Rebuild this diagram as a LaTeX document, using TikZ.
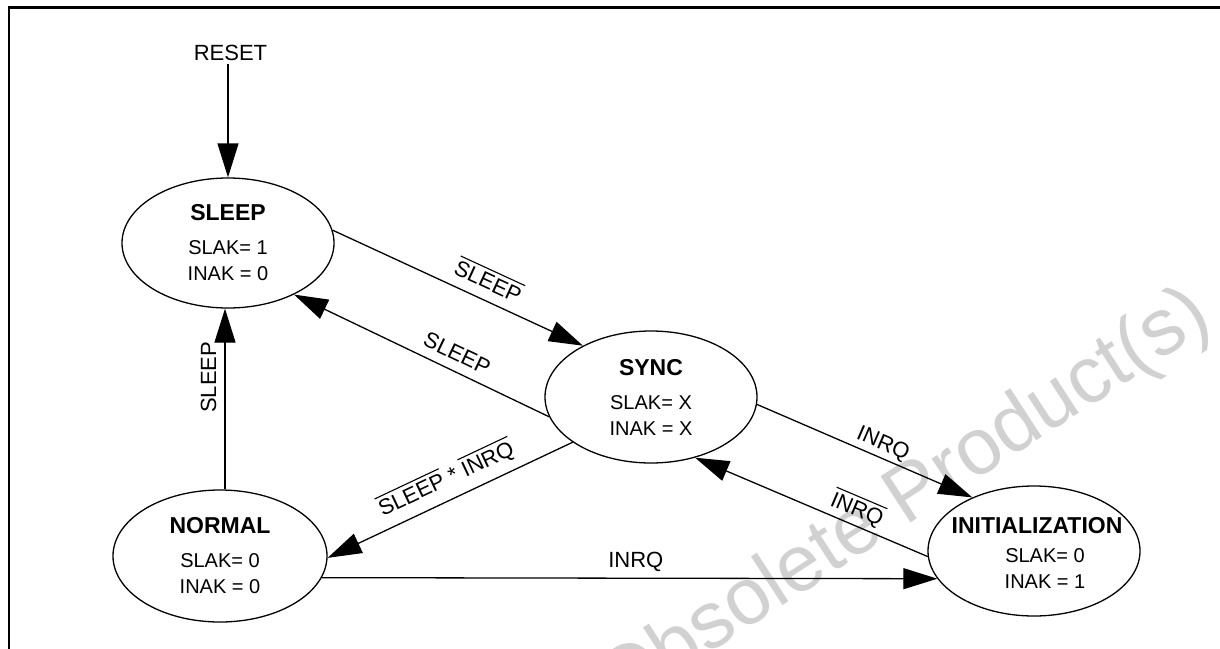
\documentclass[tikz,border=0pt]{standalone}
\usepackage{fontspec}
\setmainfont{Liberation Sans}
\usetikzlibrary{arrows.meta,shapes.geometric}
% negated signal name (bar over the word)
\newcommand{\negsig}[1]{\setbox0\hbox{#1}\rlap{\rule[\dimexpr\ht0+3.5pt\relax]{\wd0}{1.1pt}}\box0\relax}
\newcommand{\ttl}[1]{{\fontsize{23}{26}\selectfont\bfseries #1}}

\begin{document}
\begin{tikzpicture}[x=1pt,y=-1pt,
    state/.style={draw, ellipse, line width=1.3pt, inner sep=0pt,
        minimum width=212pt, minimum height=130pt},
    stext/.style={align=center, inner sep=0pt, font=\fontsize{20}{26}\selectfont},
    trans/.style={line width=1.3pt, -{Triangle[length=34pt,width=21pt]}},
    lbl/.style={font=\fontsize{22}{26}\selectfont, sloped, above, inner sep=6pt},
    vlbl/.style={font=\fontsize{22}{26}\selectfont, rotate=90, anchor=south, inner sep=8pt},
    wmark/.style={font=\fontsize{80}{86}\selectfont, text=black!18, inner sep=0pt}]
    \useasboundingbox (0,0) rectangle (1220,648);
    \clip (0,0) rectangle (1220,648);
    % Watermark behind everything
    \node[wmark, anchor=base west, rotate=33] (wm) at (618,713) {Obsolete Product(s)};
    % Figure frame (runs off the right and bottom)
    \draw[line width=2.7pt] (9,670) -- (9,7.5) -- (1240,7.5);
    % States
    \node[state] (sleep) at (228,243) {};
    \node[state, minimum height=132pt] (sync) at (651,397) {};
    \node[state, minimum width=214pt, minimum height=132pt] (normal) at (220,556) {};
    \node[state] (init) at (1034,551) {};
    \node[stext] (sleeptxt) at (sleep) {\ttl{SLEEP}\\[8pt]SLAK= 1\\INAK = 0};
    \node[stext] (synctxt) at (sync) {\ttl{SYNC}\\[8pt]SLAK= X\\INAK = X};
    \node[stext] (normaltxt) at (normal) {\ttl{NORMAL}\\[8pt]SLAK= 0\\INAK = 0};
    \node[stext, xshift=3pt, yshift=-2pt] (inittxt) at (init)
        {\ttl{INITIALIZATION}\\[3pt]\hspace*{16pt}SLAK= 0\\\hspace*{16pt}INAK = 1};
    \node[font=\fontsize{22}{26}\selectfont] (reset) at (230.5,53) {RESET};
    \coordinate (vx) at (225,0);
    % Transitions
    \draw[trans] (reset.south -| sleep.north) -- (sleep.north);
    \draw[trans] (sleep.7) -- node[lbl, pos=0.59, inner sep=10pt] {\negsig{SLEEP}} (sync.143);
    \draw[trans] (sync.191) -- node[lbl, pos=0.39, inner sep=9pt] {SLEEP} (sleep.-38);
    \draw[trans] (normal.north -| vx) -- node[vlbl, pos=0.62] {SLEEP} (sleep.south -| vx);
    \draw[trans] (sync.-150) -- node[lbl, pos=0.48, inner sep=9pt] {\negsig{SLEEP} * \negsig{INRQ}} (normal.-1);
    \draw[trans] (normal.-12.9) -- node[lbl, pos=0.51] {INRQ} (init.196.3);
    \draw[trans] (sync.-4) -- node[lbl, pos=0.56, inner sep=3pt] {INRQ} (init.139);
    \draw[trans] (init.183) -- node[lbl, pos=0.33, inner sep=4pt] {\negsig{INRQ}} (sync.-54);
\end{tikzpicture}
\end{document}
